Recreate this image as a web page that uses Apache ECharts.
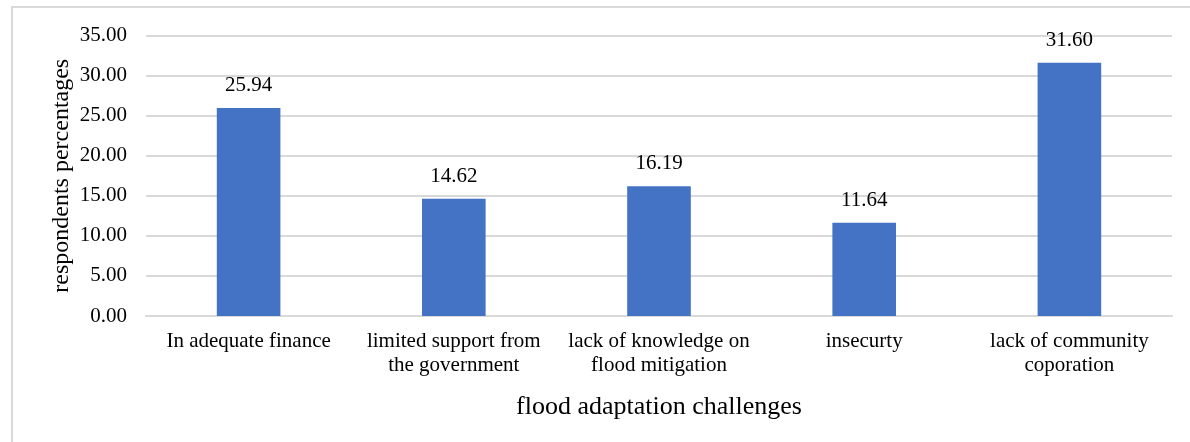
<!DOCTYPE html>
<html>
<head>
<meta charset="utf-8">
<script src="https://cdn.jsdelivr.net/npm/echarts@6/dist/echarts.min.js"></script>
<style>
  html, body { margin: 0; padding: 0; background: #fff; overflow: hidden; width: 1190px; height: 442px; }
  #frame {
    position: absolute; left: 11px; top: 6px; width: 1200px; height: 460px;
    border-left: 2px solid #d9d9d9; border-top: 2px solid #d9d9d9;
  }
  #chart { position: absolute; left: 0; top: 0; width: 1190px; height: 442px; }
</style>
</head>
<body>
<div id="frame"></div>
<div id="chart"></div>
<script>
// flood adaptation challenges, respondents percentages
const categories = [
  "In adequate finance",
  "limited support from\nthe government",
  "lack of knowledge on\nflood mitigation",
  "insecurty",
  "lack of community\ncoporation",
];
const percentages = [25.94, 14.62, 16.19, 11.64, 31.6];

const font = "'Liberation Serif', 'Times New Roman', serif";

const chart = echarts.init(document.getElementById("chart"));

chart.setOption({
  animation: false,
  textStyle: { fontFamily: font },
  grid: { left: 146, right: 18, top: 35.5, bottom: 126 },
  xAxis: {
    type: "category",
    data: categories,
    name: "flood adaptation challenges",
    nameLocation: "middle",
    nameGap: 78,
    nameTextStyle: { fontFamily: font, fontSize: 26, color: "#000" },
    axisLine: { lineStyle: { color: "#d9d9d9", width: 2 } },
    axisTick: { show: false },
    axisLabel: {
      fontFamily: font, fontSize: 21, color: "#000",
      lineHeight: 24, margin: 13, interval: 0,
    },
  },
  yAxis: {
    type: "value",
    min: 0, max: 35, interval: 5,
    name: "respondents percentages",
    nameLocation: "middle",
    nameGap: 72,
    nameMoveOverlap: false,
    nameTextStyle: { fontFamily: font, fontSize: 24, color: "#000" },
    axisLine: { show: false },
    axisTick: { show: false },
    axisLabel: {
      fontFamily: font, fontSize: 21, color: "#000", margin: 19,
      formatter: (v) => v.toFixed(2),
    },
    splitLine: { lineStyle: { color: "#d9d9d9", width: 2 } },
  },
  series: [
    {
      type: "bar",
      data: percentages,
      barWidth: "31%",
      itemStyle: { color: "#4472c4" },
      label: {
        show: true, position: "top", distance: 12,
        fontFamily: font, fontSize: 21, color: "#000",
        formatter: (p) => p.value.toFixed(2),
      },
    },
  ],
});
</script>
</body>
</html>
